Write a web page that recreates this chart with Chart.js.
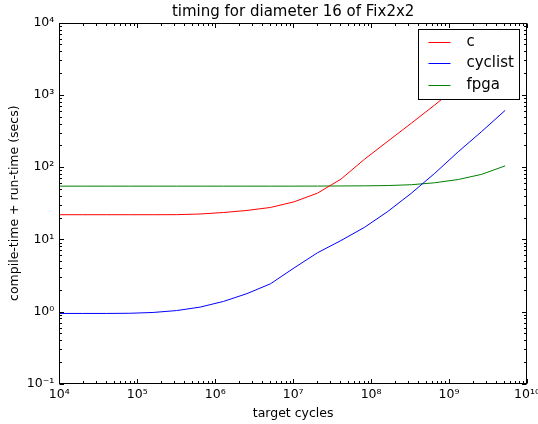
<!DOCTYPE html>
<html>
<head>
<meta charset="utf-8">
<script src="https://cdn.jsdelivr.net/npm/chart.js@4"></script>
<style>
  html, body { margin: 0; padding: 0; background: #fff; }
</style>
</head>
<body>
<canvas id="timing" width="538" height="424"></canvas>
<script>
// target cycles (x) and timings (secs)
var targetCycles = [1e4, 2e4, 4e4, 8e4, 1.6e5, 3.2e5, 6.4e5, 1.28e6, 2.56e6, 5.12e6,
    1.024e7, 2.048e7, 4.096e7, 8.192e7, 1.6384e8, 3.2768e8, 6.5536e8, 1.31072e9, 2.62144e9, 5.24288e9];
var cTimes = [21.9, 21.9, 21.9, 21.9, 21.9, 21.95, 22.4, 23.5, 25.1, 27.6,
    33.0, 43.5, 68, 128, 228, 405, 725, 1340, 2480, 4600];
var cyclistTimes = [0.94, 0.94, 0.94, 0.945, 0.97, 1.03, 1.15, 1.38, 1.77, 2.42,
    4.0, 6.5, 9.6, 14.6, 24.3, 43.4, 82, 163, 311, 610];
var fpgaTimes = [54.5, 54.5, 54.5, 54.5, 54.5, 54.5, 54.5, 54.5, 54.5, 54.5,
    54.5, 54.6, 54.8, 55.0, 55.5, 57, 60.7, 67.3, 79.4, 104];

var seriesNames = ["c", "cyclist", "fpga"];
var seriesColors = ["#ff0000", "#0000ff", "#008000"];

var xTicks = [1e4, 1e5, 1e6, 1e7, 1e8, 1e9, 1e10];
var yTicks = [1e-1, 1e0, 1e1, 1e2, 1e3, 1e4];

var supDigits = {"0": "\u2070", "1": "\u00b9", "2": "\u00b2", "3": "\u00b3", "4": "\u2074",
    "5": "\u2075", "6": "\u2076", "7": "\u2077", "8": "\u2078", "9": "\u2079", "-": "\u207b"};

function powLabel(value) {
    var e = String(Math.round(Math.log10(value)));
    var s = "";
    for (var i = 0; i < e.length; i++) s += supDigits[e[i]];
    return "10" + s;
}

function pairs(ys) {
    return targetCycles.map(function (x, i) { return {x: x, y: ys[i]}; });
}

Chart.defaults.font.family = "'DejaVu Sans', sans-serif";
Chart.defaults.color = "#000";

function drawTickMarks(ctx, scale, area, horizontal) {
    var minExp = Math.round(Math.log10(scale.min));
    var maxExp = Math.round(Math.log10(scale.max));
    for (var e = minExp; e <= maxExp; e++) {
        for (var d = 1; d <= 9; d++) {
            var v = d * Math.pow(10, e);
            if (v > scale.max * 1.0001) break;
            var len = d === 1 ? 4.5 : 2.5;
            var p = Math.round(scale.getPixelForValue(v)) + 0.5;
            ctx.beginPath();
            if (horizontal) {
                ctx.moveTo(p, area.bottom); ctx.lineTo(p, area.bottom - len);
                ctx.moveTo(p, area.top); ctx.lineTo(p, area.top + len);
            } else {
                ctx.moveTo(area.left, p); ctx.lineTo(area.left + len, p);
                ctx.moveTo(area.right, p); ctx.lineTo(area.right - len, p);
            }
            ctx.stroke();
        }
    }
}

var mplStyle = {
    id: "mplStyle",
    afterDatasetsDraw: function (chart) {
        var ctx = chart.ctx, a = chart.chartArea;
        ctx.save();

        // legend box, top right inside the axes
        var w = 101, h = 70;
        var x0 = Math.round(a.right - 8 - w) + 0.5, y0 = Math.round(a.top + 6.6) + 0.5;
        ctx.fillStyle = "#fff";
        ctx.fillRect(x0, y0, w, h);
        ctx.strokeStyle = "#000";
        ctx.lineWidth = 1;
        ctx.strokeRect(x0, y0, w, h);
        ctx.font = "15px 'DejaVu Sans'";
        ctx.textBaseline = "middle";
        ctx.textAlign = "left";
        chart.data.datasets.forEach(function (ds, i) {
            var y = Math.round(y0 + 12 + i * 21.7) + 0.5;
            ctx.strokeStyle = ds.borderColor;
            ctx.beginPath();
            ctx.moveTo(x0 + 10, y);
            ctx.lineTo(x0 + 32, y);
            ctx.stroke();
            ctx.fillStyle = "#000";
            ctx.fillText(ds.label, x0 + 48, y);
        });

        // frame and inward ticks
        ctx.strokeStyle = "#000";
        ctx.lineWidth = 1;
        var L = Math.round(a.left) + 0.5, T = Math.round(a.top) + 0.5;
        var R = Math.round(a.right) - 0.5, B = Math.round(a.bottom) - 0.5;
        ctx.strokeRect(L, T, R - L, B - T);
        var box = {left: L, right: R, top: T, bottom: B};
        drawTickMarks(ctx, chart.scales.x, box, true);
        drawTickMarks(ctx, chart.scales.y, box, false);
        ctx.restore();
    }
};

new Chart(document.getElementById("timing"), {
    type: "line",
    data: {
        datasets: [
            {label: seriesNames[0], data: pairs(cTimes), borderColor: seriesColors[0]},
            {label: seriesNames[1], data: pairs(cyclistTimes), borderColor: seriesColors[1]},
            {label: seriesNames[2], data: pairs(fpgaTimes), borderColor: seriesColors[2]}
        ]
    },
    options: {
        responsive: false,
        animation: false,
        devicePixelRatio: 1,
        layout: {padding: {left: 0, right: 11, top: 0, bottom: 0}},
        elements: {
            line: {borderWidth: 1, tension: 0, fill: false},
            point: {radius: 0, hoverRadius: 0}
        },
        plugins: {
            legend: {display: false},
            tooltip: {enabled: false},
            title: {
                display: true,
                text: "timing for diameter 16 of Fix2x2",
                fullSize: false,
                font: {size: 15, weight: "normal"},
                padding: {top: 3.5, bottom: 1.2},
                color: "#000"
            }
        },
        scales: {
            x: {
                type: "logarithmic",
                min: 1e4,
                max: 1e10,
                grid: {display: false, drawTicks: false},
                border: {display: false},
                afterBuildTicks: function (s) { s.ticks = xTicks.map(function (v) { return {value: v}; }); },
                afterFit: function (s) { s.height = 40.3; s.paddingLeft = 0; s.paddingRight = 0; },
                ticks: {autoSkip: false, maxRotation: 0, padding: 3.5, font: {size: 12.5}, color: "#000", callback: powLabel},
                title: {display: true, text: "target cycles", font: {size: 12.5}, padding: {top: 0, bottom: 3}, color: "#000"}
            },
            y: {
                type: "logarithmic",
                min: 1e-1,
                max: 1e4,
                grid: {display: false, drawTicks: false},
                border: {display: false},
                afterBuildTicks: function (s) { s.ticks = yTicks.map(function (v) { return {value: v}; }); },
                afterFit: function (s) { s.width = 59.3; s.paddingTop = 0; s.paddingBottom = 0; },
                ticks: {autoSkip: false, padding: 5, font: {size: 12.5}, color: "#000", callback: powLabel},
                title: {display: true, text: "compile-time + run-time (secs)", font: {size: 12.5}, padding: {top: 7.5, bottom: 0}, color: "#000"}
            }
        }
    },
    plugins: [mplStyle]
});
</script>
</body>
</html>
